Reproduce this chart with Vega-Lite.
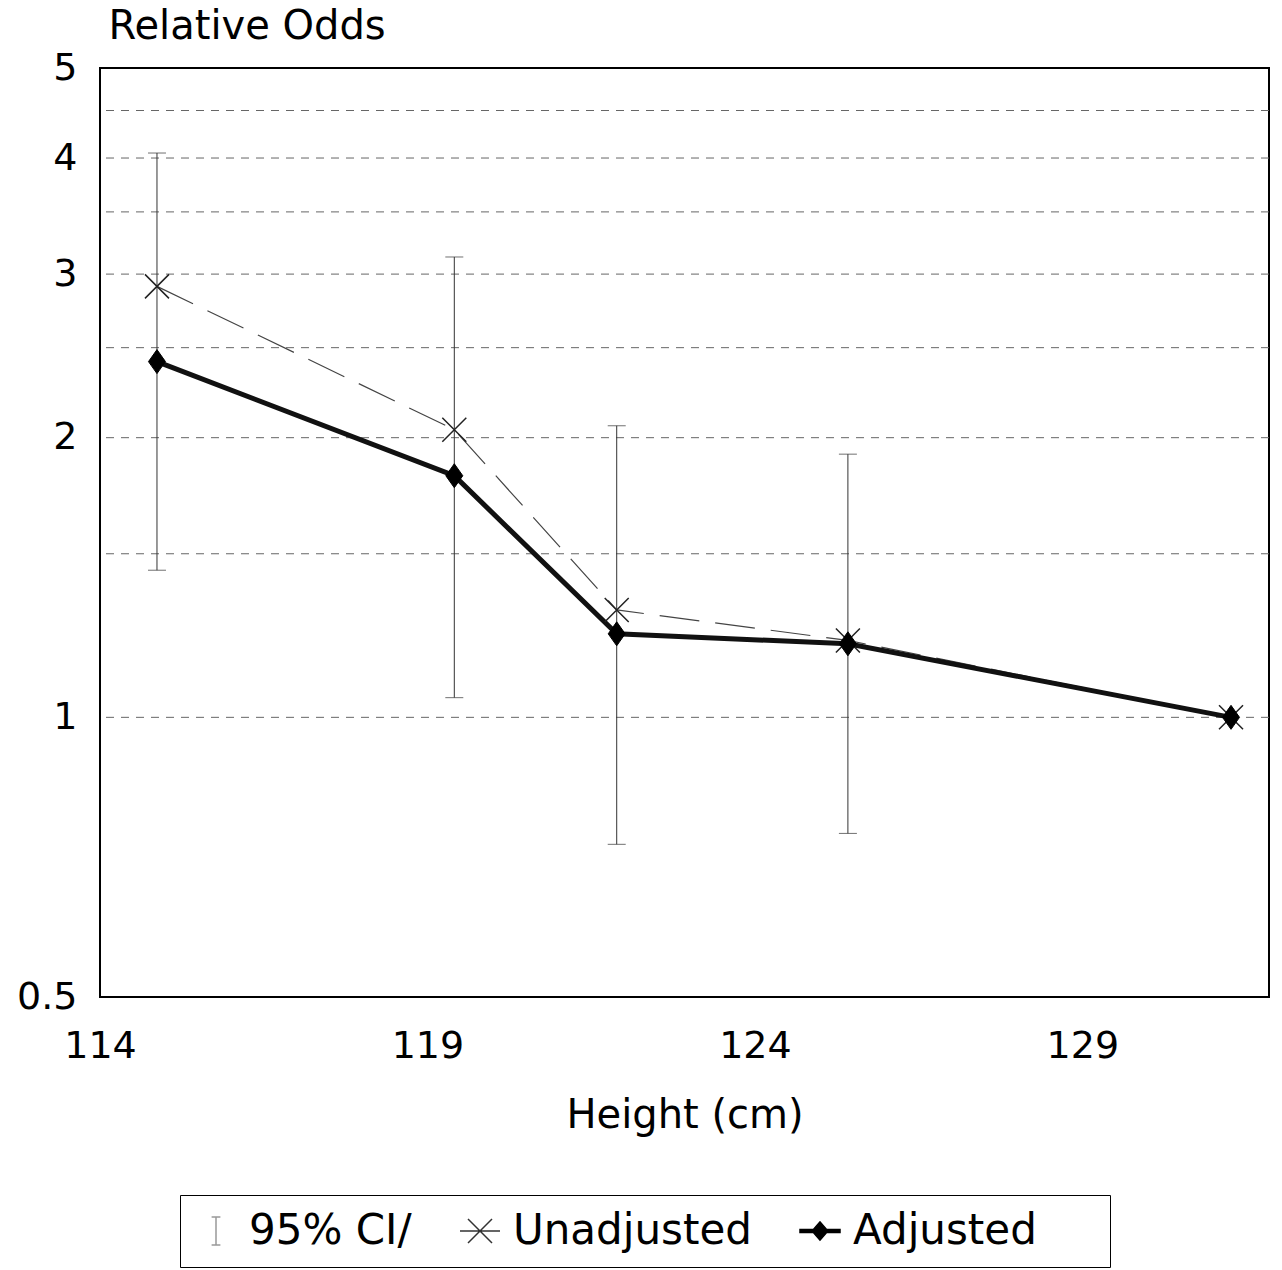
{
  "$schema": "https://vega.github.io/schema/vega-lite/v6.json",
  "width": 1169,
  "height": 929,
  "autosize": {"type": "none"},
  "padding": {"left": 100, "top": 68, "right": 13, "bottom": 273},
  "background": "white",
  "config": {
    "font": "DejaVu Sans",
    "view": {"stroke": "black", "strokeWidth": 2},
    "axis": {"domain": false, "ticks": false, "grid": false, "labelFlush": false, "labelColor": "black", "titleColor": "black", "labelFont": "DejaVu Sans", "titleFont": "DejaVu Sans", "titleFontWeight": "normal"}
  },
  "datasets": {
    "grid": [{"v": 1}, {"v": 1.5}, {"v": 2}, {"v": 2.5}, {"v": 3}, {"v": 3.5}, {"v": 4}, {"v": 4.5}],
    "ci": [
      {"h": 114.87, "lo": 1.44, "hi": 4.05},
      {"h": 119.41, "lo": 1.05, "hi": 3.13},
      {"h": 121.89, "lo": 0.73, "hi": 2.06},
      {"h": 125.42, "lo": 0.75, "hi": 1.92}
    ],
    "est": [
      {"h": 114.87, "series": "Unadjusted", "or": 2.91},
      {"h": 119.41, "series": "Unadjusted", "or": 2.04},
      {"h": 121.89, "series": "Unadjusted", "or": 1.305},
      {"h": 125.42, "series": "Unadjusted", "or": 1.21},
      {"h": 131.27, "series": "Unadjusted", "or": 1.0},
      {"h": 114.87, "series": "Adjusted", "or": 2.415},
      {"h": 119.41, "series": "Adjusted", "or": 1.82},
      {"h": 121.89, "series": "Adjusted", "or": 1.23},
      {"h": 125.42, "series": "Adjusted", "or": 1.2},
      {"h": 131.27, "series": "Adjusted", "or": 1.0}
    ]
  },
  "layer": [
    {
      "data": {"name": "grid"},
      "mark": {"type": "rule", "stroke": "#666", "strokeWidth": 1, "strokeDash": [8, 7]},
      "encoding": {
        "y": {
          "field": "v", "type": "quantitative",
          "scale": {"type": "log", "domain": [0.5, 5], "nice": false},
          "axis": {"values": [0.5, 1, 2, 3, 4, 5], "format": "~g", "labelFontSize": 38, "labelPadding": 23, "tickSize": 0, "labelBaseline": "middle",
                   "title": "Relative Odds", "titleAngle": 0, "titleAlign": "left", "titleBaseline": "alphabetic", "titleX": 8, "titleY": -30, "titleFontSize": 40}
        }
      }
    },
    {
      "data": {"name": "ci"},
      "mark": {"type": "rule", "stroke": "#333", "strokeWidth": 1},
      "encoding": {
        "x": {
          "field": "h", "type": "quantitative",
          "scale": {"domain": [114, 131.85], "nice": false, "zero": false},
          "axis": {"values": [114, 119, 124, 129], "format": "d", "labelFontSize": 38, "tickSize": 0, "labelPadding": 60, "labelBaseline": "alphabetic",
                   "title": "Height (cm)", "titleFontSize": 40, "titleBaseline": "alphabetic", "titleY": 130, "titleX": 584.5}
        },
        "y": {"field": "lo", "type": "quantitative", "title": "Relative Odds"},
        "y2": {"field": "hi"}
      }
    },
    {
      "data": {"name": "ci"},
      "mark": {"type": "tick", "orient": "horizontal", "size": 18, "thickness": 1, "color": "#333"},
      "encoding": {
        "x": {"field": "h", "type": "quantitative", "title": "Height (cm)"},
        "y": {"field": "lo", "type": "quantitative", "title": "Relative Odds"}
      }
    },
    {
      "data": {"name": "ci"},
      "mark": {"type": "tick", "orient": "horizontal", "size": 18, "thickness": 1, "color": "#333"},
      "encoding": {
        "x": {"field": "h", "type": "quantitative", "title": "Height (cm)"},
        "y": {"field": "hi", "type": "quantitative", "title": "Relative Odds"}
      }
    },
    {
      "data": {"name": "est"},
      "transform": [{"filter": "datum.series === 'Unadjusted'"}],
      "mark": {"type": "line", "stroke": "#444", "strokeWidth": 1.2, "strokeDash": [40, 16]},
      "encoding": {
        "x": {"field": "h", "type": "quantitative", "title": "Height (cm)"},
        "y": {"field": "or", "type": "quantitative", "title": "Relative Odds"}
      }
    },
    {
      "data": {"name": "est"},
      "transform": [{"filter": "datum.series === 'Adjusted'"}],
      "mark": {"type": "line", "stroke": "#111", "strokeWidth": 5},
      "encoding": {
        "x": {"field": "h", "type": "quantitative", "title": "Height (cm)"},
        "y": {"field": "or", "type": "quantitative", "title": "Relative Odds"}
      }
    },
    {
      "data": {"name": "est"},
      "transform": [{"filter": "datum.series === 'Unadjusted'"}],
      "mark": {"type": "point", "shape": "M-1,-1L1,1M-1,1L1,-1", "size": 576, "filled": false, "stroke": "#222", "strokeWidth": 1.5, "opacity": 1},
      "encoding": {
        "x": {"field": "h", "type": "quantitative", "title": "Height (cm)"},
        "y": {"field": "or", "type": "quantitative", "title": "Relative Odds"}
      }
    },
    {
      "data": {"name": "est"},
      "transform": [{"filter": "datum.series === 'Adjusted'"}],
      "mark": {"type": "point", "shape": "M0,-1.2L0.85,0L0,1.2L-0.85,0Z", "size": 400, "filled": true, "fill": "#000", "stroke": "#000", "strokeWidth": 1, "opacity": 1},
      "encoding": {
        "x": {"field": "h", "type": "quantitative", "title": "Height (cm)"},
        "y": {"field": "or", "type": "quantitative", "title": "Relative Odds"}
      }
    },
    {
      "data": {"name": "est"},
      "mark": {"type": "point", "opacity": 0},
      "encoding": {
        "x": {"field": "h", "type": "quantitative", "title": "Height (cm)"},
        "y": {"field": "or", "type": "quantitative", "title": "Relative Odds"},
        "shape": {
          "field": "series", "type": "nominal",
          "scale": {"domain": ["95% CI/", "Unadjusted", "Adjusted"],
                    "range": ["M0,-0.7V0.7M-0.22,-0.7H0.22M-0.22,0.7H0.22",
                              "M-1,0H1M-0.6,-0.6L0.6,0.6M-0.6,0.6L0.6,-0.6",
                              "M-1,-0.08H-0.33L0,-0.46L0.33,-0.08H1V0.08H0.33L0,0.46L-0.33,0.08H-1Z"]},
          "legend": {"orient": "none", "legendX": 80, "legendY": 1127, "direction": "horizontal", "title": "\u00a0", "titleOrient": "right", "titlePadding": 58, "titleFontSize": 12,
                     "strokeColor": "black", "padding": 15, "symbolSize": 1600, "symbolStrokeWidth": 1.5,
                     "labelFontSize": 42, "labelFont": "DejaVu Sans", "labelColor": "black", "labelOffset": 12, "columnPadding": 45, "labelLimit": 400,
                     "symbolOpacity": 1, "encode": {"symbols": {"update": {"opacity": {"value": 1}}}}}
        },
        "fill": {
          "field": "series", "type": "nominal",
          "scale": {"domain": ["95% CI/", "Unadjusted", "Adjusted"], "range": ["transparent", "transparent", "#000"]}
        },
        "stroke": {
          "field": "series", "type": "nominal",
          "scale": {"domain": ["95% CI/", "Unadjusted", "Adjusted"], "range": ["#999", "#333", "#000"]}
        }
      }
    }
  ]
}
